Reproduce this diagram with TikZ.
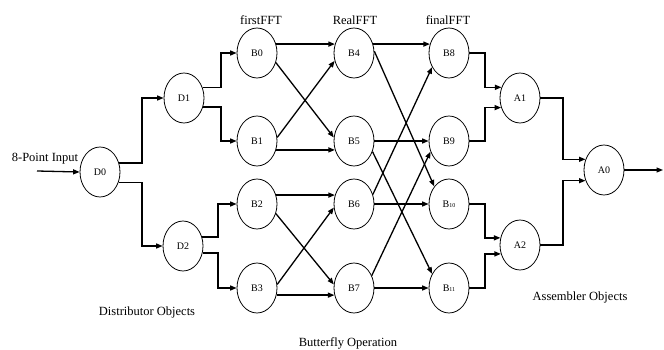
\documentclass[tikz,border=0pt]{standalone}
\usepackage{fontspec}
\setmainfont{Liberation Serif}
\usetikzlibrary{shapes.geometric,arrows.meta,calc}
\begin{document}
\begin{tikzpicture}[x=1pt,y=-1pt,
  obj/.style={draw,ellipse,minimum width=40pt,minimum height=50pt,inner sep=0pt,line width=0.8pt,font=\fontsize{10}{11}\selectfont},
  arr/.style={line width=1.3pt,-{Triangle[length=6.5pt,width=5pt]}},
  captext/.style={font=\fontsize{12.5}{14}\selectfont,inner sep=0pt}]
\useasboundingbox (0,0) rectangle (664,350);
% nodes
\node[obj] (D0) at (100,172) {D0};
\node[obj] (D1) at (184,98) {D1};
\node[obj] (D2) at (183,246) {D2};
\node[obj] (B0) at (257,53) {B0};
\node[obj] (B1) at (257,141) {B1};
\node[obj] (B2) at (257,204) {B2};
\node[obj] (B3) at (257,288) {B3};
\node[obj] (B4) at (354,53) {B4};
\node[obj] (B5) at (354,141) {B5};
\node[obj] (B6) at (354,204) {B6};
\node[obj] (B7) at (354,288) {B7};
\node[obj] (B8) at (449,53) {B8};
\node[obj] (B9) at (449,141) {B9};
\node[obj] (B10) at (449,204) {B{\fontsize{6}{7}\selectfont 10}};
\node[obj] (B11) at (449,288) {B{\fontsize{6}{7}\selectfont 11}};
\node[obj] (A1) at (520,98) {A1};
\node[obj] (A2) at (520,245) {A2};
\node[obj] (A0) at (604,170) {A0};
% captions
\node[captext] (tin) at (45,159) {8-Point Input};
\node[captext] (tfirst) at (261,20) {firstFFT};
\node[captext] (treal) at (355,20) {RealFFT};
\node[captext] (tfinal) at (448,20) {finalFFT};
\node[captext] (tdist) at (147,312) {Distributor Objects};
\node[captext] (tbut) at (348,343) {Butterfly Operation};
\node[captext] (tasm) at (580,297) {Assembler Objects};
% junction coordinates
\coordinate (in) at (37,171);
\coordinate (out) at (663,170);
\coordinate (j0) at (142,0);
\coordinate (j1) at (221,0);
\coordinate (j2) at (218,0);
\coordinate (jA) at (485,0);
\coordinate (jB) at (563,0);
% input / distributor
\draw[arr] (in) -- (D0.west);
\draw[arr] (D0.25) -- (j0 |- D0.25) |- (D1.west);
\draw[arr] (D0.-30) -- (j0 |- D0.-30) |- (D2.west);
\draw[arr] (D1.30) -- (j1 |- D1.30) |- (B0.west);
\draw[arr] (D1.-25) -- (j1 |- D1.-25) |- (B1.west);
\draw[arr] (D2.25) -- (j2 |- D2.25) |- (B2.west);
\draw[arr] (D2.-20) -- (j2 |- D2.-20) |- (B3.west);
% first butterfly stage
\draw[arr] (B0.25) -- (B4.155);
\draw[arr] (B0.-27) -- (B5.170);
\draw[arr] (B1.10) -- (B4.-158);
\draw[arr] (B1.-25) -- (B5.-155);
\draw[arr] (B2.25) -- (B6.155);
\draw[arr] (B2.-27) -- (B7.170);
\draw[arr] (B3.10) -- (B6.-170);
\draw[arr] (B3.-20) -- (B7.-160);
% second stage
\draw[arr] (B4.25) -- (B8.155);
\draw[arr] (B4.5) -- (B10.130);
\draw[arr] (B5.0) -- (B9.180);
\draw[arr] (B5.-30) -- (B11.140);
\draw[arr] (B6.27) -- (B8.-140);
\draw[arr] (B6.0) -- (B10.180);
\draw[arr] (B7.35) -- (B9.-150);
\draw[arr] (B7.0) -- (B11.180);
% assemblers
\draw[arr] (B8.east) -- (jA |- B8.east) |- (A1.150);
\draw[arr] (B9.east) -- (jA |- B9.east) |- (A1.207);
\draw[arr] (B10.east) -- (jA |- B10.east) |- (A2.160);
\draw[arr] (B11.east) -- (jA |- B11.east) |- (A2.205);
\draw[arr] (A1.east) -- (jB |- A1.east) |- (A0.150);
\draw[arr] (A2.east) -- (jB |- A2.east) |- (A0.210);
\draw[arr] (A0.east) -- (out);
\end{tikzpicture}
\end{document}
